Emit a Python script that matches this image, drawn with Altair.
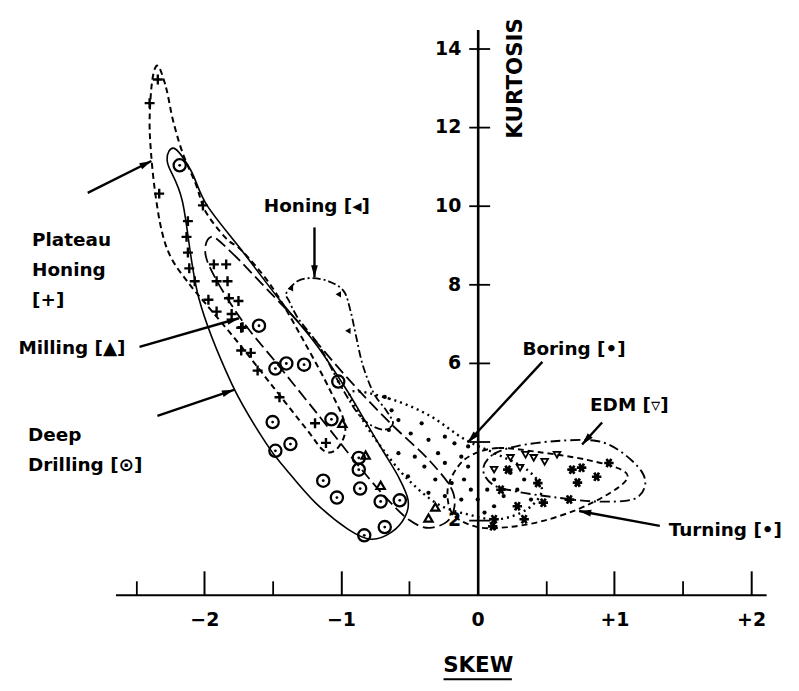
import math
import altair as alt
import pandas as pd

# ---------------- data (skew, kurtosis) ----------------
# Plateau Honing [+]
plateau_x = [-2.34, -2.40, -2.33, -2.01, -2.12, -2.13, -2.12, -2.11, -2.07, -1.93, -1.91, -1.84, -1.83,
             -1.82, -1.91, -1.75, -1.80, -1.72, -1.97, -1.73, -1.73, -1.66, -1.61, -1.45, -1.19, -1.11]
plateau_y = [13.2, 12.6, 10.3, 10.0, 9.6, 9.2, 8.8, 8.4, 8.07, 8.5, 8.07, 8.5, 8.07,
             7.64, 7.3, 7.57, 7.24, 6.9, 7.6, 6.89, 6.31, 6.25, 5.80, 5.12, 4.46, 3.96]
# Deep Drilling [o]
drill_x = [-2.18, -1.60, -1.40, -1.48, -1.27, -1.02, -1.50, -1.37, -1.48, -1.07, -0.87, -0.87, -1.13,
           -0.86, -1.03, -0.71, -0.57, -0.68, -0.83]
drill_y = [11.02, 6.94, 5.98, 5.85, 5.95, 5.52, 4.49, 3.93, 3.76, 4.56, 3.58, 3.28, 3.00,
           2.80, 2.57, 2.47, 2.50, 1.82, 1.61]
# Milling [triangle]
mill_x = [-0.99, -0.82, -0.71, -0.31, -0.36]
mill_y = [4.46, 3.65, 2.88, 2.33, 2.05]
# Honing [left triangle]
hone_x = [-1.37, -1.02, -0.95]
hone_y = [7.89, 7.74, 6.81]
# Boring [dot]
boring_x = [-0.68, -0.58, -0.65, -0.49, -0.41, -0.36, -0.24, -0.17, -0.29, -0.46, -0.58, -0.39, -0.24,
            -0.12, -0.07, -0.51, -0.31, -0.19, -0.10, -0.24, -0.36, -0.05, -0.12, 0.00, 0.07, 0.12,
            0.19, 0.05, 0.12, 0.29, 0.34, 0.24, 0.39, -0.07, -0.63]
boring_y = [5.13, 4.54, 4.29, 4.20, 4.46, 4.04, 4.12, 3.95, 3.70, 3.61, 3.70, 3.36, 3.45,
            3.61, 3.36, 3.11, 3.03, 2.94, 3.03, 2.61, 2.69, 2.77, 2.52, 2.52, 2.77, 3.03,
            2.61, 2.19, 2.35, 2.77, 3.03, 3.20, 2.52, 3.87, 4.79]
# EDM [down triangle]
edm_x = [0.24, 0.35, 0.41, 0.49, 0.58, 0.12, 0.31]
edm_y = [3.58, 3.66, 3.58, 3.48, 3.66, 3.28, 3.33]
# Turning [*]
turn_x = [0.12, 0.34, 0.17, 0.44, 0.48, 0.29, 0.22, 0.11, 0.69, 0.76, 0.73, 0.87, 0.96, 0.67]
turn_y = [2.02, 2.02, 2.77, 2.94, 2.44, 2.35, 3.28, 1.84, 3.28, 3.33, 2.95, 3.10, 3.45, 2.52]

# ---------------- envelopes (closed outlines) ----------------
env_plateau_x = [-2.34, -2.28, -2.23, -2.16, -2.06, -1.99, -1.84, -1.72, -1.50, -1.28, -1.08, -0.97, -1.02,
                 -1.12, -1.25, -1.50, -1.75, -1.99, -2.11, -2.24, -2.31, -2.36, -2.39, -2.40, -2.38]
env_plateau_y = [13.55, 13.0, 12.18, 11.35, 10.52, 9.84, 9.16, 8.83, 7.9, 6.6, 5.3, 4.4, 3.85,
                 3.75, 4.3, 5.4, 6.5, 7.5, 8.0, 8.65, 9.33, 10.34, 11.35, 12.2, 13.2]
env_drill_x = [-2.22, -2.10, -1.98, -1.72, -1.45, -1.19, -0.97, -0.82, -0.70, -0.58, -0.51, -0.53, -0.63,
               -0.78, -0.95, -1.19, -1.40, -1.55, -1.80, -2.04, -2.16, -2.27]
env_drill_y = [11.45, 10.9, 10.0, 8.83, 7.6, 6.5, 5.37, 4.5, 3.8, 3.1, 2.52, 2.09, 1.69,
               1.51, 1.77, 2.45, 3.28, 3.96, 5.47, 7.64, 10.1, 11.1]
env_mill_x = [-1.95, -1.80, -1.55, -1.25, -0.95, -0.65, -0.35, -0.18, -0.20, -0.35, -0.50, -0.68, -0.90,
              -1.15, -1.45, -1.75, -1.98]
env_mill_y = [9.2, 8.8, 7.9, 6.8, 5.6, 4.5, 3.5, 2.7, 2.05, 1.8, 2.0, 2.6, 3.5,
              4.6, 5.9, 7.2, 8.6]
env_hone_x = [-1.40, -1.32, -1.22, -1.09, -0.98, -0.93, -0.89, -0.84, -0.76, -0.67, -0.62, -0.70, -0.85,
              -1.00, -1.16, -1.31, -1.38]
env_hone_y = [7.77, 8.07, 8.15, 8.07, 7.82, 7.31, 6.68, 5.93, 5.22, 4.79, 4.45, 4.30, 4.60,
              5.40, 6.43, 7.11, 7.57]
env_boring_x = [-0.93, -0.65, -0.36, -0.09, 0.15, 0.36, 0.47, 0.36, 0.15, -0.07, -0.29, -0.51, -0.69, -0.84]
env_boring_y = [5.25, 5.09, 4.67, 4.04, 3.66, 3.28, 2.77, 2.27, 2.02, 2.14, 2.40, 3.03, 3.78, 4.54]
env_edm_x = [0.04, 0.11, 0.29, 0.58, 0.87, 1.05, 1.20, 1.22, 1.13, 0.87, 0.58, 0.29, 0.11]
env_edm_y = [3.28, 3.66, 3.88, 4.01, 4.01, 3.73, 3.23, 2.82, 2.52, 2.47, 2.57, 2.72, 2.90]
env_turn_x = [-0.04, 0.15, 0.44, 0.80, 1.05, 1.09, 0.95, 0.73, 0.47, 0.22, 0.00, -0.18, -0.22, -0.15]
env_turn_y = [3.66, 3.83, 3.73, 3.53, 3.28, 3.03, 2.65, 2.27, 1.97, 1.82, 1.82, 2.14, 2.77, 3.33]

# ---------------- annotations ----------------
label_text = ["Plateau\nHoning\n[+]", "Milling [▲]", "Deep\nDrilling [⊙]", "Honing [◂]",
              "Boring [•]", "EDM [▿]", "Turning [•]"]
label_x = [-3.26, -3.36, -3.29, -1.565, 0.327, 0.822, 1.397]
label_y = [9.11, 6.37, 4.16, 9.99, 6.35, 4.93, 1.75]
arrow_x0 = [-2.853, -2.474, -2.343, -1.194, 0.473, 0.910, 1.332]
arrow_y0 = [10.32, 6.40, 4.65, 9.44, 6.02, 4.48, 1.85]
arrow_x1 = [-2.387, -1.747, -1.783, -1.194, -0.073, 0.764, 0.742]
arrow_y1 = [11.13, 7.13, 5.31, 8.17, 3.97, 3.92, 2.23]

x_label_values = [-2, -1, 0, 1, 2]
x_major_ticks = [-2, -1, 1, 2]
x_minor_ticks = [-2.5, -1.5, -0.5, 0.5, 1.5]
y_tick_values = [2, 4, 6, 8, 10, 12, 14]

# ---------------- layout ----------------
X_DOMAIN = [-2.65, 2.11]
Y_DOMAIN = [0.10, 14.47]
W, H = 654, 568
PX_X = W / (X_DOMAIN[1] - X_DOMAIN[0])
PX_Y = H / (Y_DOMAIN[1] - Y_DOMAIN[0])
Y_AXIS_POS = (0 - X_DOMAIN[0]) * PX_X
FONT = "DejaVu Sans"
INK = "black"

xs = alt.Scale(domain=X_DOMAIN, nice=False, zero=False)
ys = alt.Scale(domain=Y_DOMAIN, nice=False, zero=False)
X = alt.X("x:Q", scale=xs, axis=None)
Y = alt.Y("y:Q", scale=ys, axis=None)


def pts(xv, yv):
    return pd.DataFrame({"x": xv, "y": yv})


def env(xv, yv):
    return pd.DataFrame({"x": xv, "y": yv, "i": list(range(len(xv)))})


layers = []

# envelopes
env_specs = [
    (env_plateau_x, env_plateau_y, dict(strokeDash=[6, 4], strokeWidth=2)),
    (env_drill_x, env_drill_y, dict(strokeWidth=1.6)),
    (env_mill_x, env_mill_y, dict(strokeDash=[12, 5], strokeWidth=1.8)),
    (env_hone_x, env_hone_y, dict(strokeDash=[8, 3, 2, 3], strokeWidth=1.8)),
    (env_boring_x, env_boring_y, dict(strokeDash=[2, 4], strokeWidth=2.4)),
    (env_edm_x, env_edm_y, dict(strokeDash=[10, 4, 2, 4], strokeWidth=1.9)),
    (env_turn_x, env_turn_y, dict(strokeDash=[6, 4], strokeWidth=1.9)),
]
for ex, ey, style in env_specs:
    layers.append(
        alt.Chart(env(ex, ey)).mark_line(interpolate="cardinal-closed", stroke=INK, **style)
        .encode(x=X, y=Y, order="i:Q")
    )

plus_shape = "M-1,0L1,0M0,-1L0,1"
star_shape = "M-1,0L1,0M-0.5,-0.87L0.5,0.87M-0.5,0.87L0.5,-0.87"

layers += [
    alt.Chart(pts(plateau_x, plateau_y)).mark_point(shape=plus_shape, filled=False, stroke=INK,
                                                    strokeWidth=2.4, size=100, opacity=1).encode(x=X, y=Y),
    alt.Chart(pts(drill_x, drill_y)).mark_point(shape="circle", filled=False, stroke=INK,
                                                strokeWidth=2.3, size=150, opacity=1).encode(x=X, y=Y),
    alt.Chart(pts(drill_x, drill_y)).mark_point(shape="circle", filled=True, fill=INK,
                                                size=8, opacity=1).encode(x=X, y=Y),
    alt.Chart(pts(mill_x, mill_y)).mark_point(shape="triangle-up", filled=False, stroke=INK,
                                              strokeWidth=2.2, size=70, opacity=1).encode(x=X, y=Y),
    alt.Chart(pts(hone_x, hone_y)).mark_point(shape="triangle-left", filled=True, fill=INK,
                                              size=40, opacity=1).encode(x=X, y=Y),
    alt.Chart(pts(boring_x, boring_y)).mark_circle(size=18, color=INK, opacity=1).encode(x=X, y=Y),
    alt.Chart(pts(edm_x, edm_y)).mark_point(shape="triangle-down", filled=False, stroke=INK,
                                            strokeWidth=1.8, size=45, opacity=1).encode(x=X, y=Y),
    alt.Chart(pts(turn_x, turn_y)).mark_point(shape=star_shape, filled=False, stroke=INK,
                                              strokeWidth=2.7, size=90, opacity=1).encode(x=X, y=Y),
]

# arrows
head_x, head_y, head_ang = [], [], []
for x0, y0, x1, y1 in zip(arrow_x0, arrow_y0, arrow_x1, arrow_y1):
    sx = (x1 - x0) * PX_X
    sy = -(y1 - y0) * PX_Y
    L = math.hypot(sx, sy)
    ux, uy = sx / L, sy / L
    head_ang.append(math.degrees(math.atan2(ux, -uy)) % 360)
    head_x.append(x1 - 6 * ux / PX_X)
    head_y.append(y1 + 6 * uy / PX_Y)

arrow_df = pd.DataFrame({"x": arrow_x0, "y": arrow_y0, "x2": arrow_x1, "y2": arrow_y1})
head_df = pd.DataFrame({"x": head_x, "y": head_y, "ang": head_ang})
layers.append(alt.Chart(arrow_df).mark_rule(stroke=INK, strokeWidth=2.4)
              .encode(x=X, y=Y, x2="x2:Q", y2="y2:Q"))
layers.append(alt.Chart(head_df).mark_point(shape="M0,-1L0.55,1L-0.55,1Z", filled=True, fill=INK,
                                            size=150, opacity=1)
              .encode(x=X, y=Y, angle=alt.Angle("ang:Q", scale=None)))

# labels
label_df = pd.DataFrame({"x": label_x, "y": label_y, "t": label_text})
layers.append(alt.Chart(label_df).mark_text(align="left", baseline="middle", font=FONT, fontSize=18.5,
                                            fontWeight="bold", lineBreak="\n", lineHeight=30, color=INK)
              .encode(x=X, y=Y, text="t:N"))

# y-axis title (placed beside the axis at the top)
kurt_df = pd.DataFrame({"x": [0.277], "y": [13.23], "t": ["KURTOSIS"]})
layers.append(alt.Chart(kurt_df).mark_text(angle=270, align="center", baseline="middle", font=FONT,
                                           fontSize=21.5, fontWeight="bold", color=INK)
              .encode(x=X, y=Y, text="t:N"))

# underline of SKEW
under_df = pd.DataFrame({"x": [-0.25], "x2": [0.25], "y": [-2.05]})
layers.append(alt.Chart(under_df).mark_rule(stroke=INK, strokeWidth=2)
              .encode(x=X, x2="x2:Q", y=Y))

# axes
axis_df = pd.DataFrame({"x": [0.0], "y": [1.0]})
axis_main = alt.Chart(axis_df).mark_point(opacity=0).encode(
    x=alt.X("x:Q", scale=xs, title="SKEW",
            axis=alt.Axis(orient="bottom", values=x_label_values,
                          labelExpr="datum.value > 0 ? '+' + datum.value : (datum.value < 0 ? '\u2212' + (-datum.value) : '0')",
                          ticks=False, labelPadding=16, domainColor=INK, domainWidth=2.2,
                          labelFont=FONT, labelFontSize=19, labelFontWeight="bold", labelColor=INK,
                          titleFont=FONT, titleFontSize=21.5, titleFontWeight="bold", titleColor=INK,
                          titleX=Y_AXIS_POS, titleY=71, titleBaseline="middle", titleAlign="center",
                          grid=False)),
    y=alt.Y("y:Q", scale=ys, title=None,
            axis=alt.Axis(orient="left", offset=-Y_AXIS_POS, values=y_tick_values,
                          labelExpr="datum.value == 4 ? '' : datum.label",
                          tickSize=9, tickWidth=1.8, tickColor=INK, domainColor=INK, domainWidth=2.6,
                          labelFont=FONT, labelFontSize=19, labelFontWeight="bold", labelColor=INK,
                          labelPadding=8, grid=False)),
)
axis_major = alt.Chart(axis_df).mark_point(opacity=0).encode(
    x=alt.X("x:Q", scale=xs, title=None,
            axis=alt.Axis(orient="top", offset=-H, values=x_major_ticks, labels=False, domain=False,
                          tickSize=24, tickWidth=2, tickColor=INK, grid=False)),
    y=alt.Y("y:Q", scale=ys, title=None,
            axis=alt.Axis(orient="right", offset=-(W - Y_AXIS_POS), values=y_tick_values, labels=False,
                          domain=False, tickSize=12, tickWidth=1.8, tickColor=INK, grid=False)),
)
axis_minor = alt.Chart(axis_df).mark_point(opacity=0).encode(
    x=alt.X("x:Q", scale=xs, title=None,
            axis=alt.Axis(orient="top", offset=-H, values=x_minor_ticks, labels=False, domain=False,
                          tickSize=14, tickWidth=1.8, tickColor=INK, grid=False)),
    y=Y,
)
layers += [axis_main, axis_major, axis_minor]

chart = (
    alt.layer(*layers)
    .resolve_axis(x="independent", y="independent")
    .properties(width=W, height=H, autosize=alt.AutoSizeParams(type="none"),
                padding={"left": 108, "top": 20, "right": 25, "bottom": 87})
    .configure_view(strokeWidth=0)
)

chart.save("out.html", embed_options={"renderer": "svg", "actions": False})
